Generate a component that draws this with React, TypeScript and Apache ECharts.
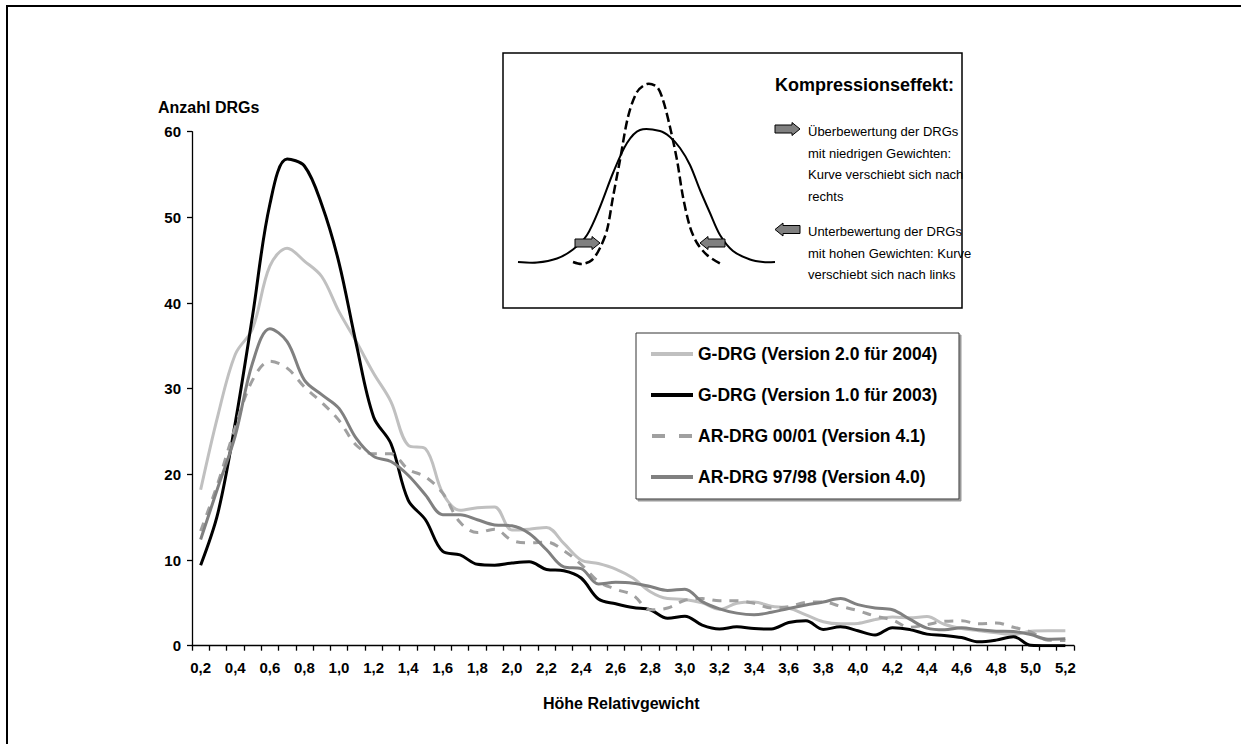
import React, { useEffect, useRef } from "react";
import * as echarts from "echarts";

const categories = ["0,2","0,3","0,4","0,5","0,6","0,7","0,8","0,9","1,0","1,1","1,2","1,3","1,4","1,5","1,6","1,7","1,8","1,9","2,0","2,1","2,2","2,3","2,4","2,5","2,6","2,7","2,8","2,9","3,0","3,1","3,2","3,3","3,4","3,5","3,6","3,7","3,8","3,9","4,0","4,1","4,2","4,3","4,4","4,5","4,6","4,7","4,8","4,9","5,0","5,1","5,2"];

const gdrg2004 = [18.2, 26.9, 34, 37, 44.3, 46.4, 44.9, 43.1, 39, 35.5, 31.8, 28.5, 23.4, 23.0, 17.8, 15.8, 16.1, 16.2, 13.5, 13.6, 13.8, 11.95, 10.0, 9.6, 8.95, 7.9, 6.3, 5.5, 5.4, 5.0, 4.25, 4.95, 5.1, 4.6, 4.4, 3.6, 2.8, 2.55, 2.6, 3.05, 3.35, 3.25, 3.4, 2.5, 2.0, 1.75, 1.5, 1.3, 1.7, 1.75, 1.75];
const gdrg2003 = [9.4, 15.5, 26, 38.5, 51.5, 56.8, 56.0, 51.5, 44.7, 35.2, 26.7, 23.6, 17.0, 14.7, 11.0, 10.6, 9.5, 9.4, 9.65, 9.8, 8.9, 8.75, 7.9, 5.45, 4.9, 4.45, 4.2, 3.2, 3.45, 2.4, 1.95, 2.2, 2.0, 1.95, 2.7, 2.9, 1.9, 2.2, 1.75, 1.25, 2.1, 1.9, 1.35, 1.2, 0.95, 0.45, 0.65, 1.05, 0.05, 0, 0];
const ardrg0001 = [13.4, 19, 25.5, 31, 33.2, 32.4, 30.2, 28.4, 26.3, 23.4, 22.4, 22.4, 20.6, 19.7, 17.8, 14.4, 13.2, 13.6, 12.3, 12.0, 12.1, 11.1, 9.5, 7.5, 6.6, 5.9, 4.2, 4.4, 5.3, 5.5, 5.25, 5.25, 4.95, 4.4, 4.55, 5.05, 5.1, 4.6, 4.1, 3.45, 3.0, 2.15, 2.45, 2.85, 2.9, 2.55, 2.65, 2.15, 1.6, 0.65, 0.6];
const ardrg9798 = [12.4, 18.5, 24.5, 33, 37, 35.5, 31, 29.3, 27.7, 24.2, 22.1, 21.5, 19.9, 17.6, 15.3, 15.3, 14.7, 14.1, 14.0, 13.1, 11.2, 9.2, 9.0, 7.2, 7.4, 7.3, 6.9, 6.45, 6.6, 5.15, 4.3, 3.8, 3.6, 3.9, 4.35, 4.75, 5.1, 5.5, 4.8, 4.4, 4.2, 3.1, 2.05, 1.85, 2.1, 1.85, 1.7, 1.65, 1.3, 0.75, 0.8];

const seriesNames = [
  "G-DRG (Version 2.0 für 2004)",
  "G-DRG (Version 1.0 für 2003)",
  "AR-DRG 00/01 (Version 4.1)",
  "AR-DRG 97/98 (Version 4.0)",
];

const yAxisTitle = "Anzahl DRGs";
const xAxisTitle = "Höhe Relativgewicht";
const insetTitle = "Kompressionseffekt:";
const insetLines1 = ["Überbewertung der DRGs", "mit niedrigen Gewichten:", "Kurve verschiebt sich nach", "rechts"];
const insetLines2 = ["Unterbewertung der DRGs", "mit hohen Gewichten: Kurve", "verschiebt sich nach links"];

const FONT = "'Liberation Sans', Arial, Helvetica, sans-serif";

// illustration shapes (decorative sketch in the inset box)
const sketchSolid = [[518,262],[537,262.5],[557,258.5],[573,249.5],[587,235],[600,207],[613,173],[627,143],[640,130],[660,131],[670,137],[680,148],[690,165],[700,190],[710,213],[720,235],[733,251],[750,259.5],[763,262],[775,262]];
const sketchDashed = [[573,262],[582,264],[592,260],[600,248],[607,230],[613,197],[620,160],[628,117],[637,92],[647,84],[657,87],[663,100],[670,127],[677,160],[683,197],[690,227],[697,243],[707,255],[720,263.5]];

function arrow(x: number, cy: number, w: number, dir: number) {
  const bh = 8, hh = 13, hw = 8;
  const pts = [
    [0, -bh / 2], [w - hw, -bh / 2], [w - hw, -hh / 2], [w, 0], [w - hw, hh / 2], [w - hw, bh / 2], [0, bh / 2],
  ].map(([px, py]) => [dir > 0 ? x + px : x + w - px, cy + py]);
  return {
    type: "polygon",
    shape: { points: pts },
    style: { fill: "#808080", stroke: "#000", lineWidth: 1 },
    z: 10,
  };
}

export default function App() {
  const ref = useRef<HTMLDivElement>(null);
  useEffect(() => {
    if (!ref.current) return;
    const chart = echarts.init(ref.current, undefined, { renderer: "svg" });
    const colors = ["#c0c0c0", "#000000", "#a0a0a0", "#808080"];
    const datas = [gdrg2004, gdrg2003, ardrg0001, ardrg9798];
    const series = seriesNames.map((name, i) => ({
      name,
      type: "line",
      data: datas[i],
      smooth: 0.35,
      symbol: "none",
      color: colors[i],
      itemStyle: { color: colors[i] },
      lineStyle: { color: colors[i], width: 3, type: i === 2 ? [9, 8] : "solid" },
      z: 2 + i,
    }));
    const textStyleBase = { fontFamily: FONT, fill: "#000" };
    const graphic: any[] = [
      { type: "polyline", shape: { points: [[7, 760], [7, 6], [1260, 6]] }, style: { fill: "none", stroke: "#000", lineWidth: 2 }, z: 0 },
      { type: "rect", shape: { x: 503, y: 53, width: 459, height: 255 }, style: { fill: "#fff", stroke: "#000", lineWidth: 1.5 }, z: 1 },
      { type: "polyline", shape: { points: sketchSolid, smooth: 0.3 }, style: { fill: "none", stroke: "#000", lineWidth: 2 }, z: 5 },
      { type: "polyline", shape: { points: sketchDashed, smooth: 0.3 }, style: { fill: "none", stroke: "#000", lineWidth: 2.5, lineDash: [9, 4] }, z: 5 },
      arrow(575, 243, 25, 1),
      arrow(700, 243, 25, -1),
      arrow(775, 129, 25, 1),
      arrow(775, 229.5, 25, -1),
      { type: "text", x: 775, y: 85, style: { ...textStyleBase, text: insetTitle, fontSize: 18, fontWeight: "bold", verticalAlign: "middle" }, z: 10 },
      ...insetLines1.map((t, i) => ({ type: "text", x: 808, y: 131.5 + i * 21.7, style: { ...textStyleBase, text: t, fontSize: 13, verticalAlign: "middle" }, z: 10 })),
      ...insetLines2.map((t, i) => ({ type: "text", x: 808, y: 231.5 + i * 21.7, style: { ...textStyleBase, text: t, fontSize: 13, verticalAlign: "middle" }, z: 10 })),
      { type: "rect", shape: { x: 636, y: 333, width: 323, height: 166 }, style: { fill: "#fff", stroke: "#333", lineWidth: 1, shadowColor: "#999", shadowOffsetX: 2, shadowOffsetY: 2, shadowBlur: 0 }, z: 1 },
      { type: "text", x: 158, y: 107, style: { ...textStyleBase, text: yAxisTitle, fontSize: 16, fontWeight: "bold", verticalAlign: "middle" }, z: 10 },
      { type: "text", x: 543, y: 703, style: { ...textStyleBase, text: xAxisTitle, fontSize: 16, fontWeight: "bold", verticalAlign: "middle" }, z: 10 },
    ];
    chart.setOption({
      animation: false,
      backgroundColor: "#fff",
      textStyle: { fontFamily: FONT },
      grid: { left: 192, top: 131.7, width: 882, height: 514, containLabel: false },
      legend: {
        orient: "vertical",
        left: 651,
        top: 344,
        padding: 0,
        itemWidth: 42,
        itemHeight: 4,
        itemGap: 21,
        itemStyle: { borderWidth: 0 },
        textStyle: { fontFamily: FONT, fontSize: 17.5, fontWeight: "bold", color: "#000", lineHeight: 20 },
        data: seriesNames.map((n, i) => ({ name: n, icon: i === 2 ? "path://M0,0h13v4h-13z M27,0h13v4h-13z" : "rect" })),
        z: 20,
      },
      xAxis: {
        type: "category",
        data: categories,
        boundaryGap: true,
        axisLine: { lineStyle: { color: "#000", width: 1.3 } },
        axisTick: { show: true, interval: 0, length: 5, alignWithLabel: false, lineStyle: { color: "#000", width: 1.3 } },
        axisLabel: { interval: 1, fontSize: 15, fontWeight: "bold", color: "#000", margin: 14, fontFamily: FONT },
        splitLine: { show: false },
      },
      yAxis: {
        type: "value",
        min: 0,
        max: 60,
        interval: 10,
        axisLine: { show: true, lineStyle: { color: "#000", width: 1.3 } },
        axisTick: { show: true, length: 5, lineStyle: { color: "#000", width: 1.3 } },
        axisLabel: { fontSize: 15, fontWeight: "bold", color: "#000", margin: 11, fontFamily: FONT },
        splitLine: { show: false },
      },
      series,
      graphic,
    });
    return () => chart.dispose();
  }, []);
  return <div ref={ref} style={{ position: "absolute", left: 0, top: 0, width: 1241, height: 744 }} />;
}
